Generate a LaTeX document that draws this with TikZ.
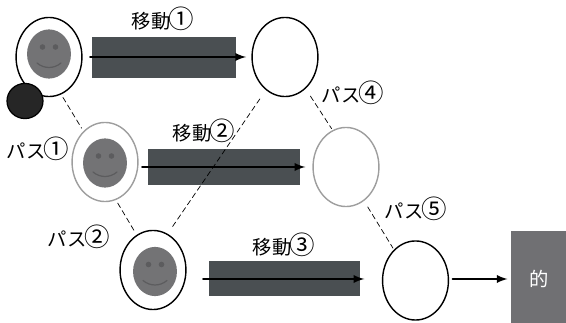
\documentclass[tikz,border=0pt]{standalone}
\usepackage{fontspec}
\setmainfont{Noto Sans CJK JP}
\usetikzlibrary{shapes.geometric}
\definecolor{barcolor}{rgb}{0.29,0.31,0.32}
\definecolor{facecolor}{rgb}{0.45,0.45,0.46}
\definecolor{eyecolor}{rgb}{0.36,0.36,0.37}
\definecolor{goalcolor}{rgb}{0.44,0.44,0.45}
\definecolor{litegray}{rgb}{0.62,0.62,0.62}
\newcommand{\num}[1]{\hspace{-1.2pt}{\fontsize{14.5}{12}\selectfont #1}}
\tikzset{
	person/.style={draw,ellipse,line width=0.8pt,inner sep=0,minimum width=37.5pt,minimum height=45pt},
	fade/.style={draw=litegray},
	face/.style={ellipse,fill=facecolor,inner sep=0,minimum width=25pt,minimum height=28pt},
	bar/.style={fill=barcolor,inner sep=0},
	label/.style={font=\fontsize{11}{12}\selectfont,inner sep=0},
	pass/.style={densely dashed,line width=0.4pt,shorten >=2pt,shorten <=2pt},
	move/.style={-latex,line width=1.1pt}
}
\begin{document}
\begin{tikzpicture}[x=0.02cm,y=-0.02cm,line cap=round,line join=round]
	\useasboundingbox (0,0) rectangle (566,323);
	% players
	\node [person] (posA) at (49,57) {};
	\node [person,fade] (posB) at (105,162) {};
	\node [person] (posC) at (153,270) {};
	\node [person] (posD) at (285,57) {};
	\node [person,fade] (posE) at (346,167) {};
	\node [person] (posF) at (415.5,280.5) {};
	\node [face] (faceA) at (49,54) {};
	\node [face] (faceB) at (105,163) {};
	\node [face] (faceC) at (155,271.5) {};
	\foreach \f in {faceA,faceB,faceC} {
		\fill [eyecolor] ([shift={(-6.5,-7)}]\f.center) circle (2.8);
		\fill [eyecolor] ([shift={(6.5,-7)}]\f.center) circle (2.8);
		\draw [eyecolor,line width=0.7pt] ([shift={(-12,9)}]\f.center) .. controls ([shift={(-5,15)}]\f.center) and ([shift={(5,15)}]\f.center) .. ([shift={(12,9)}]\f.center);
	}
	% ball
	\node [draw,ellipse,fill=black!85,line width=0.7pt,inner sep=0,minimum width=20.5pt,minimum height=20pt] (ball) at (25,101) {};

	% moves
	\node [bar,minimum width=82pt,minimum height=23.5pt] (barA) at (164,57.5) {};
	\node [bar,minimum width=86.5pt,minimum height=20.5pt] (barB) at (224,167) {};
	\node [bar,minimum width=86pt,minimum height=20pt] (barC) at (284.5,278.5) {};
	\coordinate (startA) at (90,57);
	\coordinate (startB) at (142,167);
	\coordinate (startC) at (203,279);
	\draw [move] (startA) -- ([xshift=-3pt]posD.west |- startA);
	\draw [move] (startB) -- ([xshift=-4pt]posE.west |- startB);
	\draw [move] (startC) -- ([xshift=-10pt]posF.west |- startC);

	% passes
	\draw [pass] (posA.-72) -- (posB.125);
	\draw [pass] (posB.-74) -- (posC.115);
	\draw [pass,shorten >=5pt,shorten <=5pt] (posC.68) -- (posD.240);
	\draw [pass,shorten >=1pt,shorten <=5pt] (posD.-57) -- (posE.110);
	\draw [pass,shorten >=1pt,shorten <=4pt] (posE.-62) -- (posF.125);

	% goal
	\fill [goalcolor] (511,231) rectangle (566,323);
	\node [white,label] (goal) at (539,279) {的};
	\draw [move] ([xshift=2pt]posF.east |- goal) -- ([xshift=-2pt]goal -| 511,0);

	\node [label] (textA) at (163,19) {移動\num{①}};
	\node [label] (textB) at (204,131) {移動\num{②}};
	\node [label] (textC) at (284,245) {移動\num{③}};
	\node [label] (textD) at (38,149) {パス\num{①}};
	\node [label] (textE) at (79,237) {パス\num{②}};
	\node [label] (textF) at (353,93) {パス\num{④}};
	\node [label] (textG) at (416,209) {パス\num{⑤}};
\end{tikzpicture}
\end{document}
